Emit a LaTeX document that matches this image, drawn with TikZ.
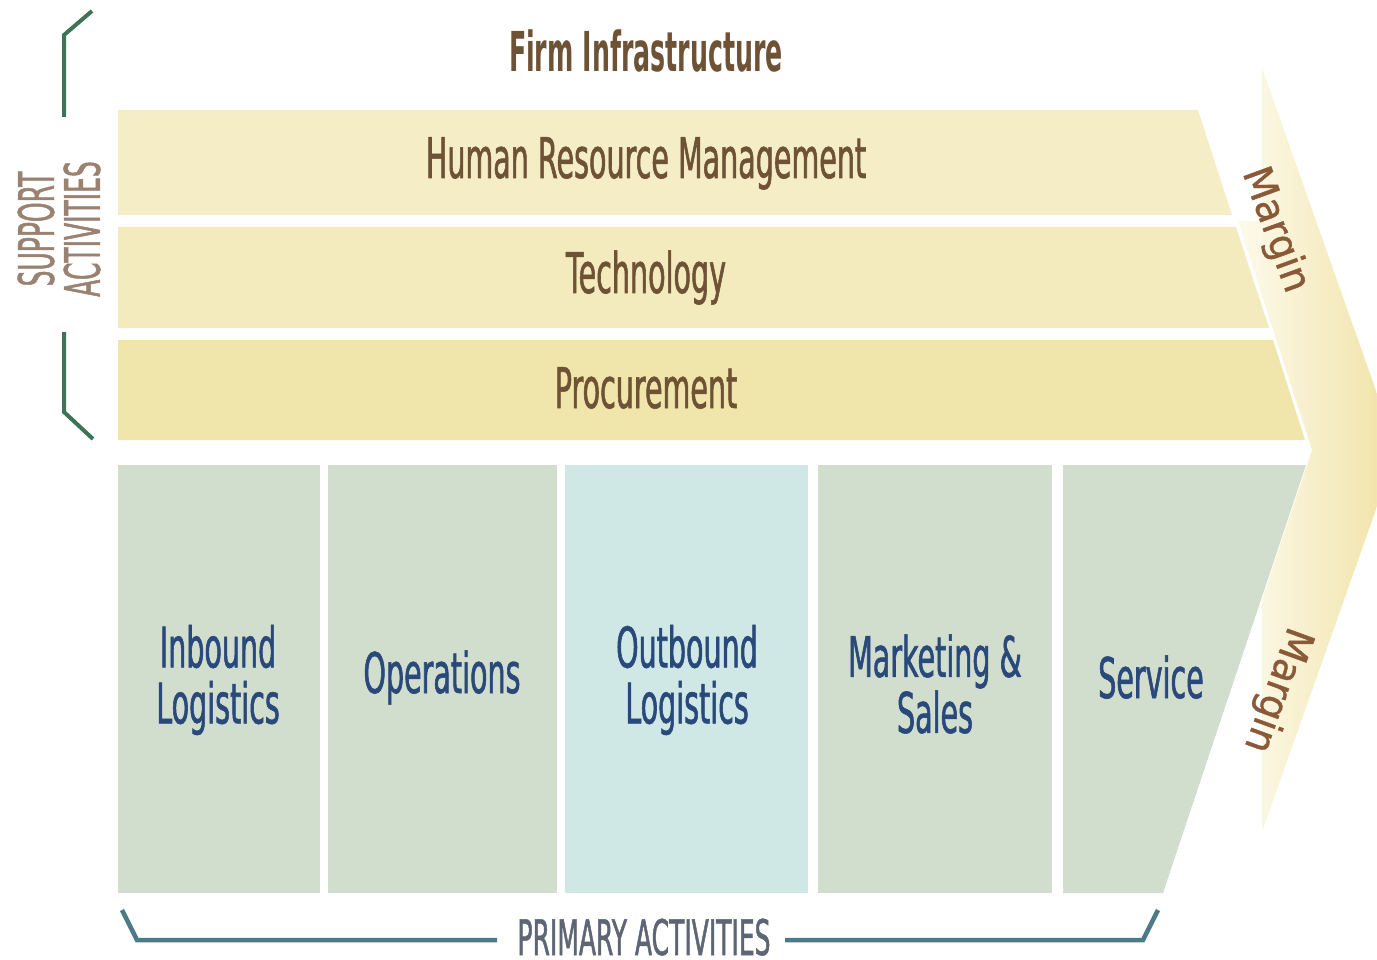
\documentclass[tikz,border=0pt]{standalone}
\usepackage{fontspec}
\newfontfamily\cf[FakeStretch=0.51,FakeBold=1]{DejaVu Sans}
\newfontfamily\cfx[FakeStretch=0.46]{DejaVu Sans}
\newfontfamily\cfm[FakeStretch=0.95,FakeBold=1]{DejaVu Sans}
\definecolor{hrmC}{HTML}{F5EDC6}
\definecolor{techC}{HTML}{F3EABD}
\definecolor{procC}{HTML}{F0E5AA}
\definecolor{primC}{HTML}{D1DDCD}
\definecolor{outC}{HTML}{CFE8E6}
\definecolor{arrL}{HTML}{FDFAEC}
\definecolor{arrR}{HTML}{F0E2A4}
\definecolor{brownT}{HTML}{6E5236}
\definecolor{marginT}{HTML}{8A5A38}
\definecolor{navyT}{HTML}{29497A}
\definecolor{supT}{HTML}{9A8272}
\definecolor{primT}{HTML}{5E6676}
\definecolor{greenB}{HTML}{3F7359}
\definecolor{tealB}{HTML}{4A7B86}
\tikzset{
  suptext/.style={text=brownT, font=\cf\fontsize{56}{56}\selectfont, inner sep=0pt},
  firmtext/.style={text=brownT, font=\cfx\bfseries\fontsize{55}{55}\selectfont, inner sep=0pt},
  primtext/.style={text=navyT, font=\cf\fontsize{56}{56}\selectfont, align=center, inner sep=0pt},
  margintext/.style={text=marginT, font=\cfm\fontsize{40}{40}\selectfont, inner sep=0pt},
  sidetext/.style={font=\cf\fontsize{49}{46}\selectfont, align=center, inner sep=0pt},
  gbracket/.style={draw=greenB, line width=4pt},
  tbracket/.style={draw=tealB, line width=4.5pt}
}
\begin{document}
\begin{tikzpicture}[x=1pt,y=-1pt]
\useasboundingbox (0,0) rectangle (1377,960);
\clip (0,0) rectangle (1377,960);
% margin chevron
\shade[left color=arrL, right color=arrR]
  (1262,68) -- (1397,450) -- (1262,832) -- (1262,600) -- (1312,450) -- (1238,221) -- (1262,221) -- cycle;
% support bands
\fill[hrmC] (118,110) -- (1198,110) -- (1232,215) -- (118,215) -- cycle;
\fill[techC] (118,227) -- (1236,227) -- (1269,328) -- (118,328) -- cycle;
\fill[procC] (118,340) -- (1273,340) -- (1305,440) -- (118,440) -- cycle;
% primary columns
\fill[primC] (118,465) rectangle (320,893);
\fill[primC] (328,465) rectangle (557,893);
\fill[outC] (565,465) rectangle (808,893);
\fill[primC] (818,465) rectangle (1052,893);
\fill[primC] (1063,465) -- (1306,465) -- (1163,893) -- (1063,893) -- cycle;
% texts
\node[firmtext, anchor=base] (fi) at (646,72) {Firm Infrastructure};
\node[suptext, anchor=base] (hrm) at (646,178) {Human Resource Management};
\node[suptext, anchor=base] (tech) at (646,293) {Technology};
\node[suptext, anchor=base] (proc) at (646,408) {Procurement};
\node[primtext] (ib) at (218,680) {Inbound\\Logistics};
\node[primtext, anchor=base] (op) at (442,693) {Operations};
\node[primtext] (ob) at (687,680) {Outbound\\Logistics};
\node[primtext] (ms) at (935,684) {Marketing \&\\Sales};
\node[primtext, anchor=base] (sv) at (1151,698) {Service};
\node[margintext, rotate=-70] (m1) at (1275,230) {Margin};
\node[margintext, rotate=-110] (m2) at (1277,690) {Margin};
\node[sidetext, text=supT, rotate=90] (sa) at (59,229) {SUPPORT\\ACTIVITIES};
\node[sidetext, text=primT, anchor=base] (pa) at (644,955) {PRIMARY ACTIVITIES};
% brackets
\coordinate (g1) at (92,11);
\coordinate (g2) at (64,35);
\coordinate (g3) at (64,117);
\coordinate (g4) at (64,332);
\coordinate (g5) at (64,412);
\coordinate (g6) at (93,439);
\draw[gbracket] (g1) -- (g2) -- (g3);
\draw[gbracket] (g4) -- (g5) -- (g6);
\coordinate (t1) at (122,910);
\coordinate (t2) at (137,940);
\coordinate (t3) at (497,940);
\coordinate (t4) at (785,940);
\coordinate (t5) at (1143,940);
\coordinate (t6) at (1158,910);
\draw[tbracket] (t1) -- (t2) -- (t3);
\draw[tbracket] (t4) -- (t5) -- (t6);
\end{tikzpicture}
\end{document}
